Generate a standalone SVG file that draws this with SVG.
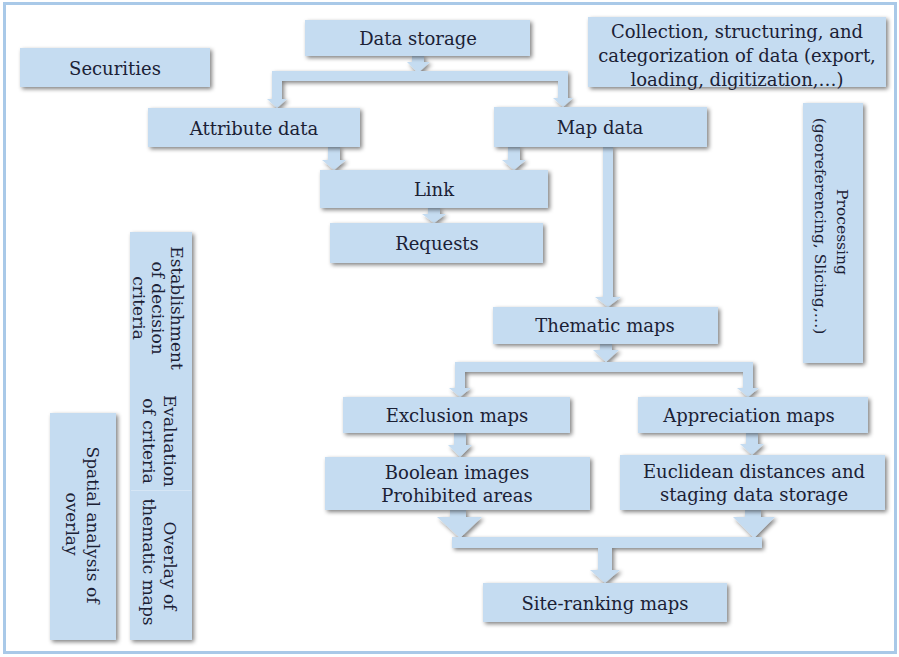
<svg xmlns="http://www.w3.org/2000/svg" width="899" height="657" viewBox="0 0 899 657">
<defs>
<filter id="sh" x="-20%" y="-20%" width="140%" height="140%">
<feGaussianBlur in="SourceAlpha" stdDeviation="2"/>
<feOffset dx="2" dy="2" result="b"/>
<feComponentTransfer><feFuncA type="linear" slope="0.5"/></feComponentTransfer>
<feMerge><feMergeNode/><feMergeNode in="SourceGraphic"/></feMerge>
</filter>
<style>
.box{fill:#c5dcf1;filter:url(#sh)}
.flat{fill:#c5dcf1}
.con{fill:#c5dcf1}
text{font-family:"DejaVu Serif","Liberation Serif",serif;font-size:18px;fill:#1b2135;text-anchor:middle;dominant-baseline:central}
.v{font-size:17px}
.p{font-size:15.5px}
</style>
</defs>
<rect x="0" y="0" width="899" height="657" fill="#ffffff"/>
<rect x="4.5" y="3.5" width="891" height="649" fill="none" stroke="#a9c9e8" stroke-width="3"/>

<g id="connectors" filter="url(#sh)" class="con">
<polygon points="412,56 424,56 424,62 430,62 418,73 407,62 412,62"/>
<rect x="272" y="71" width="296" height="10"/>
<polygon points="272,71 282,71 282,99 287,99 277,108 267,99 272,99"/>
<polygon points="558,71 568,71 568,98 573,98 563,107 553,98 558,98"/>
<polygon points="328,147 340,147 340,160 346,160 334,170 322,160 328,160"/>
<polygon points="508,147 520,147 520,160 526,160 514,170 502,160 508,160"/>
<polygon points="428,208 440,208 440,214 446,214 434,223 422,214 428,214"/>
<polygon points="603,147 613,147 613,297 621,297 608,307 595,297 603,297"/>
<polygon points="600,344 612,344 612,350 619,350 606,362 593,350 600,350"/>
<rect x="455" y="362" width="298" height="10"/>
<polygon points="455,362 465,362 465,388 471,388 460,397 449,388 455,388"/>
<polygon points="743,362 753,362 753,388 759,388 748,397 737,388 743,388"/>
<polygon points="454,433 466,433 466,445 472,445 460,457 448,445 454,445"/>
<polygon points="746,433 758,433 758,444 764,444 752,455 740,444 746,444"/>
<polygon points="450,510 466,510 466,517 482,517 460,538 437,517 450,517"/>
<polygon points="745,510 761,510 761,517 775,517 754,538 733,517 745,517"/>
<rect x="452" y="537" width="310" height="11"/>
<polygon points="598,548 612,548 612,570 620,570 605,583 590,570 598,570"/>
</g>

<g id="securities"><rect class="box" x="20" y="48" width="190" height="39"/><text x="115" y="68">Securities</text></g>
<g id="data-storage"><rect class="box" x="305" y="20" width="225" height="36"/><text x="418" y="38">Data storage</text></g>
<g id="collection"><rect class="box" x="588" y="17" width="298" height="70"/>
<text x="737" y="31">Collection, structuring, and</text>
<text x="737" y="55">categorization of data (export,</text>
<text x="737" y="79">loading, digitization,…)</text></g>
<g id="attribute-data"><rect class="box" x="148" y="108" width="212" height="39"/><text x="254" y="128">Attribute data</text></g>
<g id="map-data"><rect class="box" x="494" y="107" width="213" height="40"/><text x="600" y="127">Map data</text></g>
<g id="link"><rect class="box" x="320" y="170" width="228" height="38"/><text x="434" y="189">Link</text></g>
<g id="requests"><rect class="box" x="330" y="223" width="213" height="40"/><text x="437" y="243">Requests</text></g>
<g id="thematic-maps"><rect class="box" x="493" y="307" width="225" height="37"/><text x="605" y="325">Thematic maps</text></g>
<g id="exclusion-maps"><rect class="box" x="343" y="397" width="227" height="36"/><text x="457" y="415">Exclusion maps</text></g>
<g id="appreciation-maps"><rect class="box" x="638" y="397" width="230" height="36"/><text x="749" y="415">Appreciation maps</text></g>
<g id="boolean-images"><rect class="box" x="325" y="457" width="265" height="53"/>
<text x="457" y="472">Boolean images</text><text x="457" y="495">Prohibited areas</text></g>
<g id="euclidean"><rect class="box" x="620" y="455" width="265" height="55"/>
<text x="754" y="471">Euclidean distances and</text><text x="754" y="494">staging data storage</text></g>
<g id="site-ranking-maps"><rect class="box" x="483" y="583" width="244" height="39"/><text x="605" y="603">Site-ranking maps</text></g>

<g id="processing"><rect class="box" x="803" y="103" width="60" height="260"/>
<text class="p" transform="translate(842,232) rotate(90)">Processing</text>
<text class="p" transform="translate(820,226) rotate(90)">(georeferencing, Slicing,…)</text></g>

<rect class="box" x="130" y="232" width="62" height="408"/>
<g id="establishment"><rect class="flat" x="130" y="232" width="62" height="148"/>
<text class="v" transform="translate(177,308) rotate(90)">Establishment</text>
<text class="v" transform="translate(158,308) rotate(90)">of decision</text>
<text class="v" transform="translate(139,308) rotate(90)">criteria</text></g>
<g id="evaluation"><rect class="flat" x="130" y="380" width="62" height="110"/>
<text class="v" transform="translate(170,441) rotate(90)">Evaluation</text>
<text class="v" transform="translate(149,441) rotate(90)">of criteria</text></g>
<line x1="131" y1="490.5" x2="191" y2="490.5" stroke="#d6e6f5" stroke-width="1"/>
<g id="overlay"><rect class="flat" x="130" y="491" width="62" height="149"/>
<text class="v" transform="translate(170,566) rotate(90)">Overlay of</text>
<text class="v" transform="translate(149,562) rotate(90)">thematic maps</text></g>
<g id="spatial-analysis"><rect class="box" x="50" y="413" width="66" height="227"/>
<text class="v" transform="translate(93,525) rotate(90)">Spatial analysis of</text>
<text class="v" transform="translate(72,524) rotate(90)">overlay</text></g>
</svg>
